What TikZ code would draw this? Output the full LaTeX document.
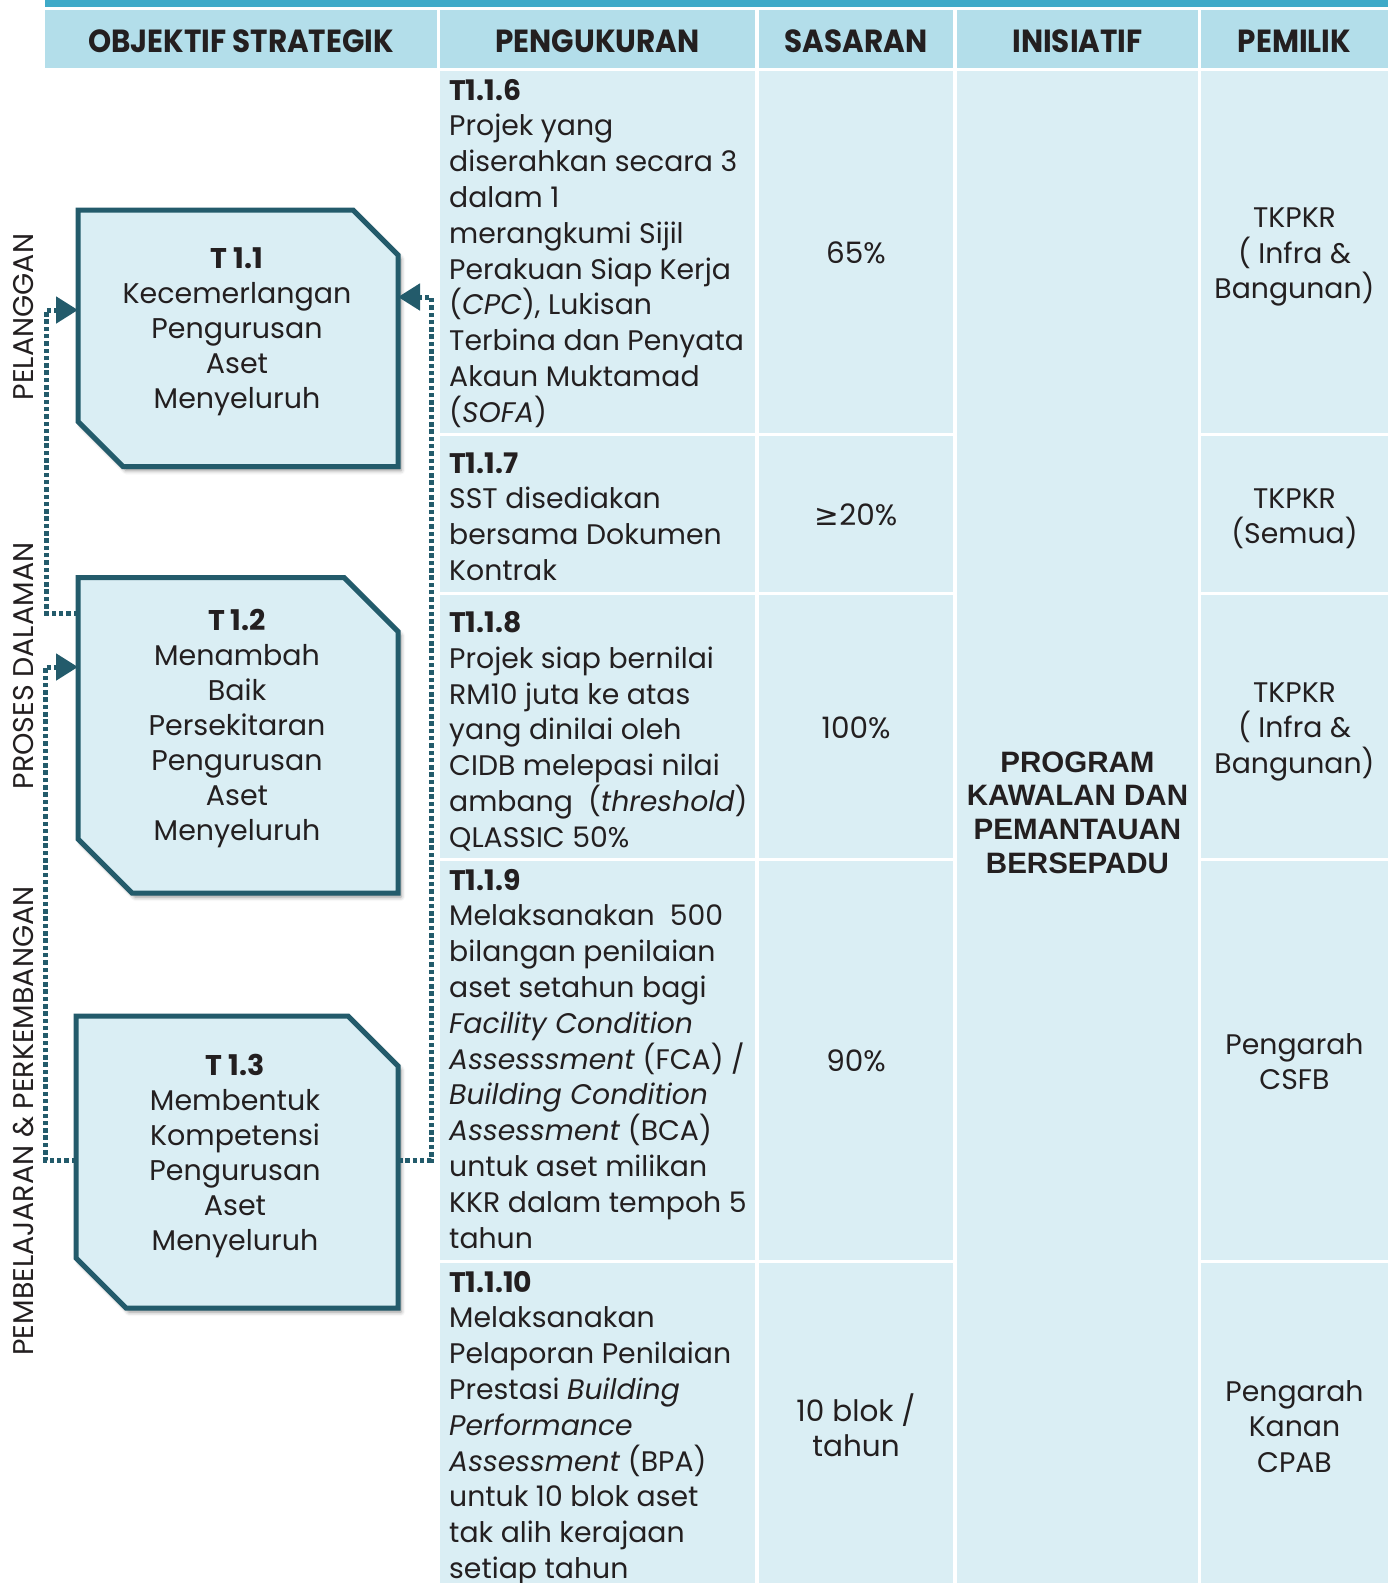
\documentclass[tikz,border=0pt]{standalone}
\usepackage{fontspec}
\setmainfont{Poppins}
\newfontfamily\headfont[FakeStretch=0.92]{Poppins}
\newfontfamily\arialfont{Liberation Sans}
\newfontfamily\symfont{DejaVu Sans}
\usetikzlibrary{arrows.meta,shadows.blur}

\definecolor{barteal}{HTML}{3FAAC8}
\definecolor{headfill}{HTML}{B3DEEA}
\definecolor{cellfill}{HTML}{DAEEF4}
\definecolor{boxline}{HTML}{235B6B}
\definecolor{ink}{HTML}{231F20}

% baseline-to-baseline distance in the measure column
\def\lineskipmeas{35.8}

\tikzset{
  headtext/.style={anchor=base, inner sep=0pt, text=ink,
    font=\headfont\bfseries\fontsize{32}{32}\selectfont},
  % anchored on the baseline of the last line
  measure/.style={anchor=base west, align=left, inner sep=0pt, text=ink,
    font=\fontsize{28.3}{35.8}\selectfont},
  target/.style={anchor=center, align=center, inner sep=0pt, text=ink,
    font=\fontsize{29.5}{35.5}\selectfont},
  owner/.style={anchor=center, align=center, inner sep=0pt, text=ink,
    font=\fontsize{28.3}{35.5}\selectfont},
  initiative/.style={anchor=center, align=center, inner sep=0pt, text=ink,
    font=\arialfont\bfseries\fontsize{29.5}{33.6}\selectfont},
  perspective/.style={anchor=center, rotate=90, inner sep=0pt, text=ink,
    font=\fontsize{28.5}{28.5}\selectfont},
  boxarea/.style={rectangle, inner sep=0pt, outer sep=2.5pt, draw=none},
  objbox/.style={draw=boxline, line width=5pt, fill=cellfill, line join=miter,
    blur shadow={shadow xshift=3pt, shadow yshift=-4pt, shadow blur radius=4pt,
      shadow opacity=45}},
  objtext/.style={anchor=center, align=center, inner sep=0pt, text=ink,
    font=\fontsize{28.5}{35}\selectfont},
  link/.style={draw=boxline, line width=5pt, dash pattern=on 4.5pt off 2.8pt,
    -{Triangle[length=22pt, width=26pt]}},
}

\begin{document}
\begin{tikzpicture}[x=1pt, y=-1pt]
\useasboundingbox (0,0) rectangle (1388,1583);

% top rule and header row
\fill[barteal] (45,0) rectangle (1388,7);
\fill[headfill] (45,10) rectangle (437,68);
\fill[headfill] (440,10) rectangle (755,68);
\fill[headfill] (759,10) rectangle (953,68);
\fill[headfill] (957,10) rectangle (1198,68);
\fill[headfill] (1201,10) rectangle (1388,68);

\node[headtext] (hobj) at (241,52.5) {OBJEKTIF STRATEGIK};
\node[headtext] (hpeng) at (597.5,52.5) {PENGUKURAN};
\node[headtext] (hsas) at (856,52.5) {SASARAN};
\node[headtext] (hini) at (1077.5,52.5) {INISIATIF};
\node[headtext] (hpem) at (1294.5,52.5) {PEMILIK};

% body cells
\foreach \ya/\yb in {71/433, 436/592, 595/858, 861/1260, 1263/1583} {
  \fill[cellfill] (440,\ya) rectangle (755,\yb);
  \fill[cellfill] (759,\ya) rectangle (953,\yb);
  \fill[cellfill] (1201,\ya) rectangle (1388,\yb);
}
\fill[cellfill] (957,71) rectangle (1198,1583);

% measures (first baseline + (lines-1) * line distance)
\node[measure] (m6) at (449,100+9*\lineskipmeas) {\textbf{T1.1.6}\\Projek yang\\diserahkan secara 3\\dalam 1\\merangkumi Sijil\\Perakuan Siap Kerja\\(\textit{CPC}), Lukisan\\Terbina dan Penyata\\Akaun Muktamad\\(\textit{SOFA})};
\node[measure] (m7) at (449,473+3*\lineskipmeas) {\textbf{T1.1.7}\\SST disediakan\\bersama Dokumen\\Kontrak};
\node[measure] (m8) at (449,632.5+6*\lineskipmeas) {\textbf{T1.1.8}\\Projek siap bernilai\\RM10 juta ke atas\\yang dinilai oleh\\CIDB melepasi nilai\\ambang\ \ (\textit{threshold})\\QLASSIC 50\%};
\node[measure] (m9) at (449,890+10*\lineskipmeas) {\textbf{T1.1.9}\\Melaksanakan\ \ 500\\bilangan penilaian\\aset setahun bagi\\\textit{Facility Condition}\\\textit{Assesssment} (FCA) /\\\textit{Building Condition}\\\textit{Assessment} (BCA)\\untuk aset milikan\\KKR dalam tempoh 5\\tahun};
\node[measure] (m10) at (449,1292+8*\lineskipmeas) {\textbf{T1.1.10}\\Melaksanakan\\Pelaporan Penilaian\\Prestasi \textit{Building}\\\textit{Performance}\\\textit{Assessment} (BPA)\\untuk 10 blok aset\\tak alih kerajaan\\setiap tahun};

% targets
\node[target] (s6) at (856,253) {65\%};
\node[target] (s7) at (856,515) {{\symfont ≥}20\%};
\node[target] (s8) at (856,728) {100\%};
\node[target] (s9) at (856,1061) {90\%};
\node[target] (s10) at (856,1425) {10 blok /\\tahun};

% initiative
\node[initiative] (ini) at (1077.5,812.6) {PROGRAM\\KAWALAN DAN\\PEMANTAUAN\\BERSEPADU};

% owners
\node[owner] (o6) at (1294.5,257) {TKPKR\\( Infra \&\\Bangunan)};
\node[owner] (o7) at (1294.5,519) {TKPKR\\(Semua)};
\node[owner] (o8) at (1294.5,731.5) {TKPKR\\( Infra \&\\Bangunan)};
\node[owner] (o9) at (1294.5,1061.5) {Pengarah\\CSFB};
\node[owner] (o10) at (1294.5,1426.5) {Pengarah\\Kanan\\CPAB};

% perspective labels
\node[perspective] (pA) at (24,317) {PELANGGAN};
\node[perspective] (pB) at (24,666) {PROSES DALAMAN};
\node[perspective] (pC) at (24,1121) {PEMBELAJARAN \& PERKEMBANGAN};

% objective boxes
\node[boxarea, minimum width=315pt, minimum height=251.5pt] (b1) at (238,338.25) {};
\node[boxarea, minimum width=315pt, minimum height=310.5pt] (b2) at (238,735.25) {};
\node[boxarea, minimum width=317pt, minimum height=287pt] (b3) at (237,1162) {};

\draw[objbox] (b1.north west) -- ([xshift=-45pt]b1.north east) -- ([yshift=-45pt]b1.north east)
  -- (b1.south east) -- ([xshift=45pt]b1.south west) -- ([yshift=45pt]b1.south west) -- cycle;
\draw[objbox] (b2.north west) -- ([xshift=-54pt]b2.north east) -- ([yshift=-54pt]b2.north east)
  -- (b2.south east) -- ([xshift=54pt]b2.south west) -- ([yshift=54pt]b2.south west) -- cycle;
\draw[objbox] (b3.north west) -- ([xshift=-50pt]b3.north east) -- ([yshift=-50pt]b3.north east)
  -- (b3.south east) -- ([xshift=50pt]b3.south west) -- ([yshift=50pt]b3.south west) -- cycle;

\node[objtext] (t1) at (237,331.6) {\textbf{T 1.1}\\Kecemerlangan\\Pengurusan\\Aset\\Menyeluruh};
\node[objtext] (t2) at (237,728.5) {\textbf{T 1.2}\\Menambah\\Baik\\Persekitaran\\Pengurusan\\Aset\\Menyeluruh};
\node[objtext] (t3) at (235,1155.8) {\textbf{T 1.3}\\Membentuk\\Kompetensi\\Pengurusan\\Aset\\Menyeluruh};

% connector end points on the box outlines and the bends beside them
\coordinate (b1inL) at (b1.west |- 0,310);
\coordinate (b2outL) at (b2.west |- 0,613);
\coordinate (b2inL) at (b2.west |- 0,667);
\coordinate (b3outL) at (b3.west |- 0,1160);
\coordinate (b1inR) at (b1.east |- 0,297);
\coordinate (b3outR) at (b3.east |- 0,1160);
\coordinate (railA) at (46,310);
\coordinate (railB) at (45,667);
\coordinate (railC) at (431,297);

% dotted links
\draw[link] (b2outL) -| (railA) -- (b1inL);
\draw[link] (b3outL) -| (railB) -- (b2inL);
\draw[link] (b3outR) -| (railC) -- (b1inR);
\end{tikzpicture}
\end{document}
